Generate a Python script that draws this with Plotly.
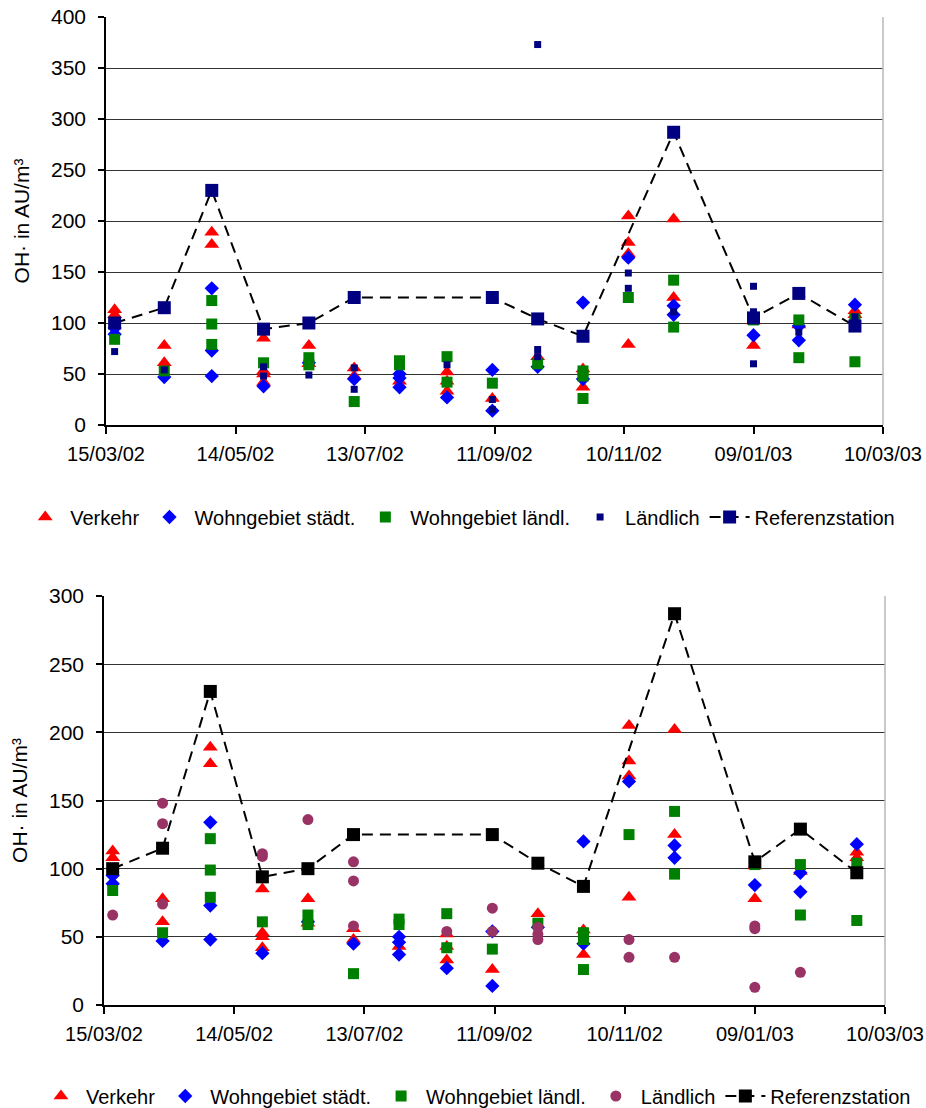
import plotly.graph_objects as go

# Sampling dates (one campaign roughly every three weeks)
sample_dates = [
    "2002-03-19", "2002-04-11", "2002-05-03", "2002-05-27", "2002-06-17",
    "2002-07-08", "2002-07-29", "2002-08-20", "2002-09-10", "2002-10-01",
    "2002-10-22", "2002-11-12", "2002-12-03", "2003-01-09", "2003-01-30",
    "2003-02-25",
]

# Measured OH· values per sampling date (several sites per category)
verkehr = [
    [113, 108], [78, 61], [189, 177], [85, 53, 50, 42], [78, 60], [56, 48],
    [43], [52, 43, 33], [26], [67], [55, 37], [205, 179, 168, 79],
    [202, 125], [102, 78], [98], [112, 108],
]
wohngebiet_staedt = [
    [95, 89], [47], [134, 73, 48], [38], [61], [45], [50, 46, 37], [27],
    [54, 14], [57], [120, 45], [164], [117, 108], [88], [97, 83], [118],
]
wohngebiet_laendl = [
    [84], [53], [122, 99, 79], [61], [66, 59], [23], [63, 59], [67, 42],
    [41], [60], [53, 48, 26], [125], [142, 96], [103], [103, 66], [104, 62],
]
laendlich_a = [
    [72], [54], [], [57, 48], [49], [56, 35], [], [59], [25, 15],
    [373, 74, 67], [], [149, 134], [111], [136, 111, 60], [91], [106],
]
laendlich_b = [
    [66], [148, 133, 74], [], [111, 109], [136], [105, 91, 58], [], [54],
    [71, 54], [57, 52, 48], [], [48, 35], [35], [58, 56, 13], [24], [],
]

# Reference station
ref_dates = [
    "2002-03-19", "2002-04-11", "2002-05-03", "2002-05-27", "2002-06-17",
    "2002-07-08", "2002-09-10", "2002-10-01", "2002-10-22", "2002-12-03",
    "2003-01-09", "2003-01-30", "2003-02-25",
]
ref_values = [100, 115, 230, 94, 100, 125, 125, 104, 87, 287, 105, 129, 97]

# Axis ticks
tick_dates = ["2002-03-15", "2002-05-14", "2002-07-13", "2002-09-11",
              "2002-11-10", "2003-01-09", "2003-03-10"]
tick_labels = ["15/03/02", "14/05/02", "13/07/02", "11/09/02",
               "10/11/02", "09/01/03", "10/03/03"]

FONT = "Liberation Sans, Arial, sans-serif"
FS = 20


def flatten(groups):
    xs, ys = [], []
    for d, vals in zip(sample_dates, groups):
        for v in vals:
            xs.append(d)
            ys.append(v)
    return xs, ys


fig = go.Figure()


def add_panel(xa, ya, legend, laendlich, l_symbol, l_color, l_size, ref_color):
    common = dict(mode="markers", xaxis=xa, yaxis=ya, legend=legend,
                  cliponaxis=False)
    x, y = flatten(verkehr)
    fig.add_trace(go.Scatter(x=x, y=y, name="Verkehr",
                             marker=dict(symbol="triangle-up", size=13,
                                         color="#FF0000"), **common))
    x, y = flatten(wohngebiet_staedt)
    fig.add_trace(go.Scatter(x=x, y=y, name="Wohngebiet städt.",
                             marker=dict(symbol="diamond", size=11,
                                         color="#0000FF"), **common))
    x, y = flatten(wohngebiet_laendl)
    fig.add_trace(go.Scatter(x=x, y=y, name="Wohngebiet ländl.",
                             marker=dict(symbol="square", size=11,
                                         color="#008000"), **common))
    x, y = flatten(laendlich)
    fig.add_trace(go.Scatter(x=x, y=y, name="Ländlich",
                             marker=dict(symbol=l_symbol, size=l_size,
                                         color=l_color), **common))
    fig.add_trace(go.Scatter(
        x=ref_dates, y=ref_values, name="Referenzstation",
        mode="lines+markers", xaxis=xa, yaxis=ya, legend=legend,
        cliponaxis=False,
        line=dict(color="black", width=2, dash="11px,7px"),
        marker=dict(symbol="square", size=13, color=ref_color)))


add_panel("x", "y", "legend", laendlich_a, "square", "#000080", 7, "#000080")
add_panel("x2", "y2", "legend2", laendlich_b, "circle", "#993366", 11, "#000000")

xaxis_common = dict(
    type="date", range=["2002-03-15", "2003-03-10"],
    tickvals=tick_dates, ticktext=tick_labels,
    ticks="outside", ticklen=7, tickwidth=1.5, tickcolor="black",
    showline=True, linecolor="black", linewidth=1.5, showgrid=False,
    zeroline=False, automargin=False, ticklabelstandoff=3,
    tickfont=dict(family=FONT, size=FS, color="black"),
)
yaxis_common = dict(
    ticks="outside", ticklen=6, tickwidth=1.5, tickcolor="black",
    showline=True, linecolor="black", linewidth=1.5,
    showgrid=True, gridcolor="#333333", gridwidth=1.3, zeroline=False,
    automargin=False,
    tickfont=dict(family=FONT, size=FS + 1, color="black"),
    ticklabelstandoff=8,
    title=dict(text="OH· in AU/m³",
               font=dict(family=FONT, size=FS + 1, color="black"),
               standoff=16),
)

W, H = 926, 1108
top_dom = [1 - 425 / H, 1 - 17 / H]
bot_dom = [1 - 1005 / H, 1 - 596 / H]

legend_common = dict(orientation="h", xanchor="center", yanchor="middle",
                     font=dict(family=FONT, size=FS), itemwidth=40,
                     bgcolor="rgba(0,0,0,0)")

fig.update_layout(
    width=W, height=H,
    margin=dict(l=0, r=0, t=0, b=0, autoexpand=False),
    paper_bgcolor="white", plot_bgcolor="white",
    font=dict(family=FONT, size=FS, color="black"),
    xaxis=dict(domain=[106 / W, 883 / W], anchor="y", **xaxis_common),
    yaxis=dict(domain=top_dom, anchor="x", range=[0, 400], dtick=50,
               **yaxis_common),
    xaxis2=dict(domain=[104 / W, 885 / W], anchor="y2", **xaxis_common),
    yaxis2=dict(domain=bot_dom, anchor="x2", range=[0, 300], dtick=50,
                **yaxis_common),
    legend=dict(x=0.497, y=1 - 517 / H, **legend_common),
    legend2=dict(x=0.514, y=1 - 1096 / H, **legend_common),
    showlegend=True,
)

# Light frame on the right-hand side of each plot area
for xr, yr in (("x domain", "y domain"), ("x2 domain", "y2 domain")):
    fig.add_shape(type="line", xref=xr, yref=yr, x0=1, x1=1, y0=0, y1=1,
                  line=dict(color="#b8b8b8", width=1.5))

fig.write_html("out.html")
